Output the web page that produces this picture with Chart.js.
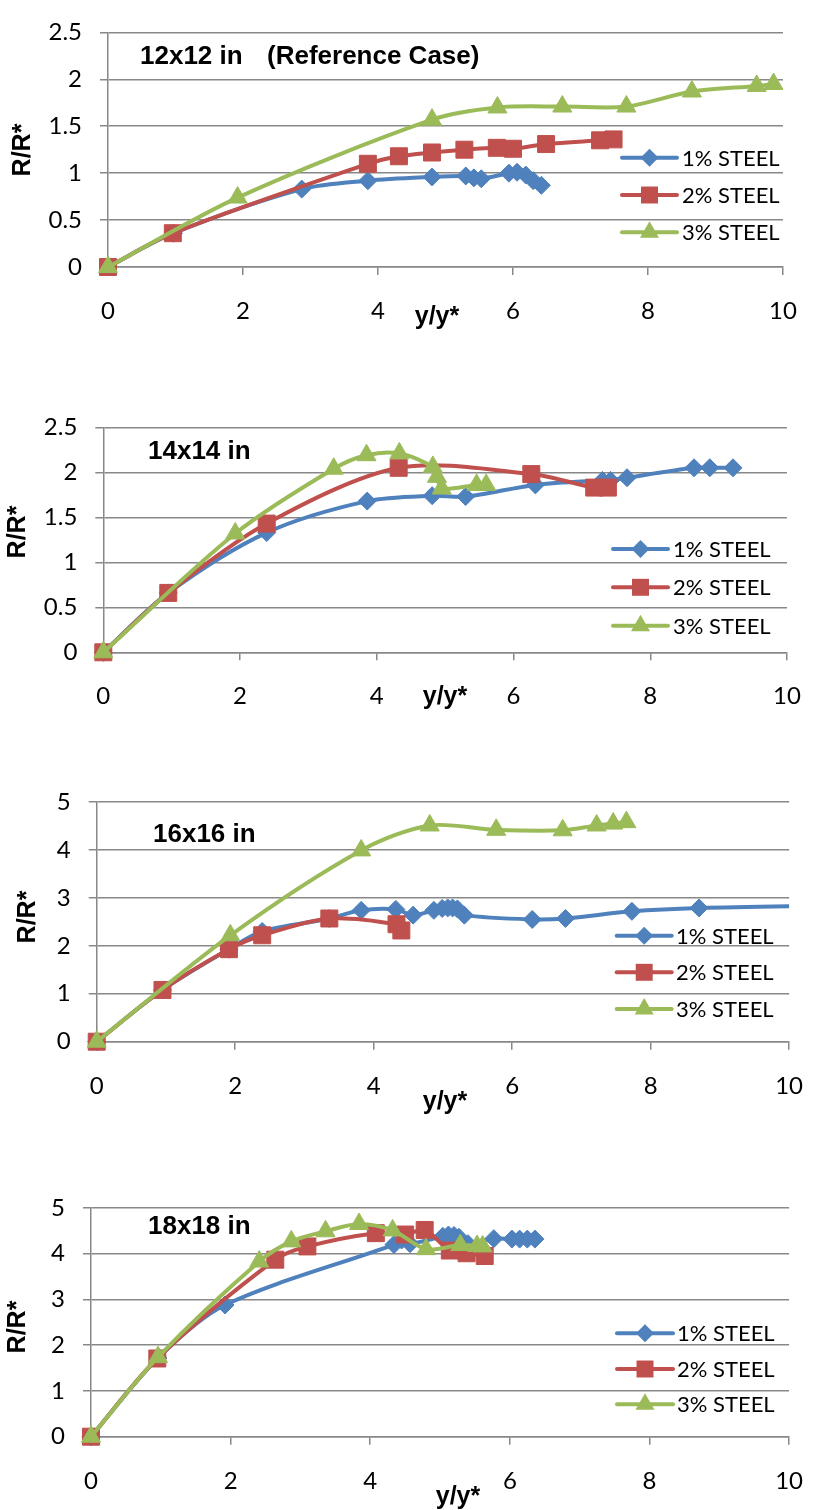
<!DOCTYPE html>
<html>
<head>
<meta charset="utf-8">
<script src="https://cdn.jsdelivr.net/npm/chart.js@4.4.1/dist/chart.umd.min.js"></script>
<style>
  body { margin: 0; background: #fff; width: 825px; height: 1510px; position: relative; overflow: hidden; }
  canvas { position: absolute; left: 0; }
</style>
</head>
<body>
<canvas id="g12"></canvas>
<canvas id="g14"></canvas>
<canvas id="g16"></canvas>
<canvas id="g18"></canvas>
<script>
// ---- dados ----
const rotulos = ["1% STEEL", "2% STEEL", "3% STEEL"];
const ticksX = [0, 2, 4, 6, 8, 10];

// 12x12 in (Reference Case)
const g12_x1 = [0, 0.97, 2.87, 3.85, 4.8, 5.3, 5.42, 5.53, 5.94, 6.06, 6.19, 6.3, 6.42];
const g12_y1 = [0, 0.36, 0.83, 0.92, 0.96, 0.97, 0.95, 0.94, 1.0, 1.01, 0.98, 0.92, 0.87];
const g12_x2 = [0, 0.96, 3.85, 4.31, 4.8, 5.28, 5.76, 6.0, 6.49, 7.29, 7.49];
const g12_y2 = [0, 0.36, 1.10, 1.18, 1.22, 1.25, 1.27, 1.26, 1.31, 1.35, 1.36];
const g12_x3 = [0, 1.92, 4.8, 5.77, 6.73, 7.68, 8.65, 9.61, 9.86];
const g12_y3 = [0, 0.74, 1.57, 1.70, 1.71, 1.71, 1.87, 1.93, 1.95];

// 14x14 in
const g14_x1 = [0, 0.95, 2.39, 3.86, 4.81, 5.3, 6.32, 7.3, 7.42, 7.66, 8.64, 8.87, 9.21];
const g14_y1 = [0, 0.66, 1.33, 1.68, 1.74, 1.73, 1.86, 1.91, 1.91, 1.94, 2.05, 2.05, 2.05];
const g14_x2 = [0, 0.95, 2.39, 4.32, 6.26, 7.18, 7.38];
const g14_y2 = [0, 0.66, 1.43, 2.05, 1.98, 1.83, 1.83];
const g14_x3 = [0, 1.93, 3.37, 3.85, 4.33, 4.82, 4.88, 4.95, 5.46, 5.6];
const g14_y3 = [0, 1.32, 2.04, 2.19, 2.21, 2.06, 1.95, 1.82, 1.86, 1.86];

// 16x16 in
const g16_x1 = [0, 0.95, 1.91, 2.39, 3.36, 3.82, 4.32, 4.57, 4.87, 4.99, 5.07, 5.14, 5.21, 5.31, 6.29, 6.77, 7.73, 8.7, 10.6];
const g16_y1 = [0, 1.08, 1.93, 2.3, 2.57, 2.74, 2.76, 2.64, 2.74, 2.78, 2.79, 2.79, 2.77, 2.64, 2.55, 2.57, 2.72, 2.79, 2.84];
const g16_x2 = [0, 0.95, 1.91, 2.39, 3.36, 4.33, 4.4];
const g16_y2 = [0, 1.08, 1.93, 2.22, 2.57, 2.45, 2.32];
const g16_x3 = [0, 1.93, 3.82, 4.81, 5.77, 6.73, 7.22, 7.46, 7.65];
const g16_y3 = [0, 2.22, 3.99, 4.51, 4.42, 4.41, 4.51, 4.55, 4.58];

// 18x18 in
const g18_x1 = [0, 0.96, 1.92, 4.34, 4.45, 4.57, 5.04, 5.12, 5.2, 5.27, 5.4, 5.77, 6.03, 6.14, 6.25, 6.36];
const g18_y1 = [0, 1.72, 2.88, 4.2, 4.3, 4.22, 4.38, 4.41, 4.4, 4.36, 4.22, 4.33, 4.32, 4.32, 4.32, 4.32];
const g18_x2 = [0, 0.95, 2.64, 3.1, 4.08, 4.5, 4.78, 5.14, 5.38, 5.64];
const g18_y2 = [0, 1.71, 3.87, 4.16, 4.45, 4.42, 4.52, 4.07, 4.01, 3.95];
const g18_x3 = [0, 0.96, 2.41, 2.87, 3.36, 3.84, 4.32, 4.8, 5.29, 5.53, 5.61];
const g18_y3 = [0, 1.74, 3.83, 4.27, 4.49, 4.65, 4.51, 4.1, 4.19, 4.17, 4.16];

// ---- estilo ----
const cores = ["#4F81BD", "#C0504D", "#9BBB59"];
const marcadores = ["rectRot", "rect", "triangle"];
const raios = [9, 12, 11];
const cinza = "#888888";

Chart.defaults.font.family = "Lato";
Chart.defaults.font.size = 22;
Chart.defaults.color = "#000";

const graficos = [
  { id: "g12", topo: 0, altura: 380, esq: 108, dir: 783, sup: 24.5, inf: 267, ymax: 2.5, passo: 0.5,
    titulo: ["12x12 in", "(Reference Case)"], tituloX: [140, 267], tituloY: 57,
    rotY: [23, 150], rotX: [437, 317],
    leg: { x1: 622, x2: 677, tx: 682, ys: [157.7, 195, 232.3] },
    xs: [g12_x1, g12_x2, g12_x3], ys: [g12_y1, g12_y2, g12_y3] },
  { id: "g14", topo: 380, altura: 380, esq: 103.3, dir: 787, sup: 427.3, inf: 652.3, ymax: 2.5, passo: 0.5,
    titulo: ["14x14 in"], tituloX: [148], tituloY: 451.7,
    rotY: [18, 532], rotX: [445, 697],
    leg: { x1: 613, x2: 668, tx: 673, ys: [549, 587.3, 625.7] },
    xs: [g14_x1, g14_x2, g14_x3], ys: [g14_y1, g14_y2, g14_y3] },
  { id: "g16", topo: 760, altura: 390, esq: 96.7, dir: 801, sup: 802, inf: 1041.7, ymax: 5, passo: 1,
    titulo: ["16x16 in"], tituloX: [153], tituloY: 835,
    rotY: [28, 917], rotX: [445, 1102],
    leg: { x1: 616.7, x2: 671.7, tx: 676, ys: [935.7, 972.3, 1009] },
    xs: [g16_x1, g16_x2, g16_x3], ys: [g16_y1, g16_y2, g16_y3] },
  { id: "g18", topo: 1150, altura: 360, esq: 91, dir: 806.5, sup: 1208, inf: 1436.7, ymax: 5, passo: 1,
    titulo: ["18x18 in"], tituloX: [148], tituloY: 1226.7,
    rotY: [18, 1327], rotX: [458, 1497],
    leg: { x1: 617, x2: 673, tx: 677, ys: [1333.3, 1369, 1404.3] },
    xs: [g18_x1, g18_x2, g18_x3], ys: [g18_y1, g18_y2, g18_y3] }
];

function pares(xs, ys) {
  return xs.map((x, i) => ({ x: x, y: ys[i] }));
}

function desenharMarcador(ctx, estilo, x, y, r) {
  ctx.beginPath();
  if (estilo == "rectRot") {
    ctx.moveTo(x - r, y); ctx.lineTo(x, y - r); ctx.lineTo(x + r, y); ctx.lineTo(x, y + r);
  } else if (estilo == "rect") {
    const s = Math.SQRT1_2 * r;
    ctx.rect(x - s, y - s, 2 * s, 2 * s);
  } else {
    const w = Math.sin(2 * Math.PI / 3) * r;
    ctx.moveTo(x, y - r); ctx.lineTo(x + w, y + r / 2); ctx.lineTo(x - w, y + r / 2);
  }
  ctx.closePath();
  ctx.fill();
}

function pluginTextos(g) {
  return {
    id: "textos_" + g.id,
    afterDraw(chart) {
      const ctx = chart.ctx;
      const dy = g.topo;
      ctx.save();
      ctx.fillStyle = "#000";
      ctx.textBaseline = "middle";
      ctx.textAlign = "left";
      ctx.font = "bold 26px 'Liberation Sans'";
      g.titulo.forEach((t, i) => ctx.fillText(t, g.tituloX[i], g.tituloY - dy));

      ctx.font = "bold 25px 'Liberation Sans'";
      ctx.textAlign = "center";
      ctx.fillText("y/y*", g.rotX[0], g.rotX[1] - dy);
      ctx.save();
      ctx.translate(g.rotY[0], g.rotY[1] - dy);
      ctx.rotate(-Math.PI / 2);
      ctx.fillText("R/R*", 0, 0);
      ctx.restore();

      // legenda
      ctx.textAlign = "left";
      ctx.font = "22px Lato";
      for (let i = 0; i < 3; i++) {
        const yy = g.leg.ys[i] - dy;
        ctx.strokeStyle = cores[i];
        ctx.lineWidth = 4;
        ctx.lineCap = "round";
        ctx.beginPath();
        ctx.moveTo(g.leg.x1, yy);
        ctx.lineTo(g.leg.x2, yy);
        ctx.stroke();
        ctx.fillStyle = cores[i];
        desenharMarcador(ctx, marcadores[i], (g.leg.x1 + g.leg.x2) / 2, yy, raios[i]);
        ctx.fillStyle = "#000";
        ctx.fillText(rotulos[i], g.leg.tx, yy + 1);
      }
      ctx.restore();
    }
  };
}

graficos.forEach((g) => {
  const canvas = document.getElementById(g.id);
  canvas.width = 825;
  canvas.height = g.altura;
  canvas.style.top = g.topo + "px";

  const datasets = [];
  for (let i = 0; i < 3; i++) {
    datasets.push({
      label: rotulos[i],
      data: pares(g.xs[i], g.ys[i]),
      showLine: true,
      borderColor: cores[i],
      backgroundColor: cores[i],
      borderWidth: 4,
      tension: 0.3,
      pointStyle: marcadores[i],
      pointRadius: raios[i],
      pointBackgroundColor: cores[i],
      pointBorderColor: cores[i],
      pointBorderWidth: 1,
      clip: { left: 20, top: 20, right: 0, bottom: 20 },
      order: 3 - i
    });
  }

  new Chart(canvas, {
    type: "scatter",
    data: { datasets: datasets },
    options: {
      responsive: false,
      animation: false,
      layout: { padding: { left: 0, right: 825 - g.dir, top: g.sup - g.topo, bottom: 0 } },
      plugins: { legend: { display: false }, tooltip: { enabled: false } },
      scales: {
        x: {
          type: "linear",
          min: 0, max: 10,
          afterBuildTicks: (s) => { s.ticks = ticksX.map((v) => ({ value: v })); },
          afterFit: (s) => { s.height = g.topo + g.altura - g.inf; },
          ticks: { padding: 22, font: { size: 24 }, callback: (v) => String(v) },
          grid: {
            drawOnChartArea: false, drawTicks: true, tickLength: 8, lineWidth: 1.5,
            color: (c) => (c.tick && c.tick.value === 0 ? "rgba(0,0,0,0)" : cinza)
          },
          border: { color: cinza, width: 1.5 }
        },
        y: {
          type: "linear",
          min: 0, max: g.ymax,
          afterFit: (s) => { s.width = g.esq; },
          ticks: { stepSize: g.passo, padding: 18, font: { size: 24 }, callback: (v) => String(v) },
          grid: { color: cinza, lineWidth: 1.5, tickLength: 8 },
          border: { color: cinza, width: 1.5 }
        }
      }
    },
    plugins: [pluginTextos(g)]
  });
});
</script>
</body>
</html>
